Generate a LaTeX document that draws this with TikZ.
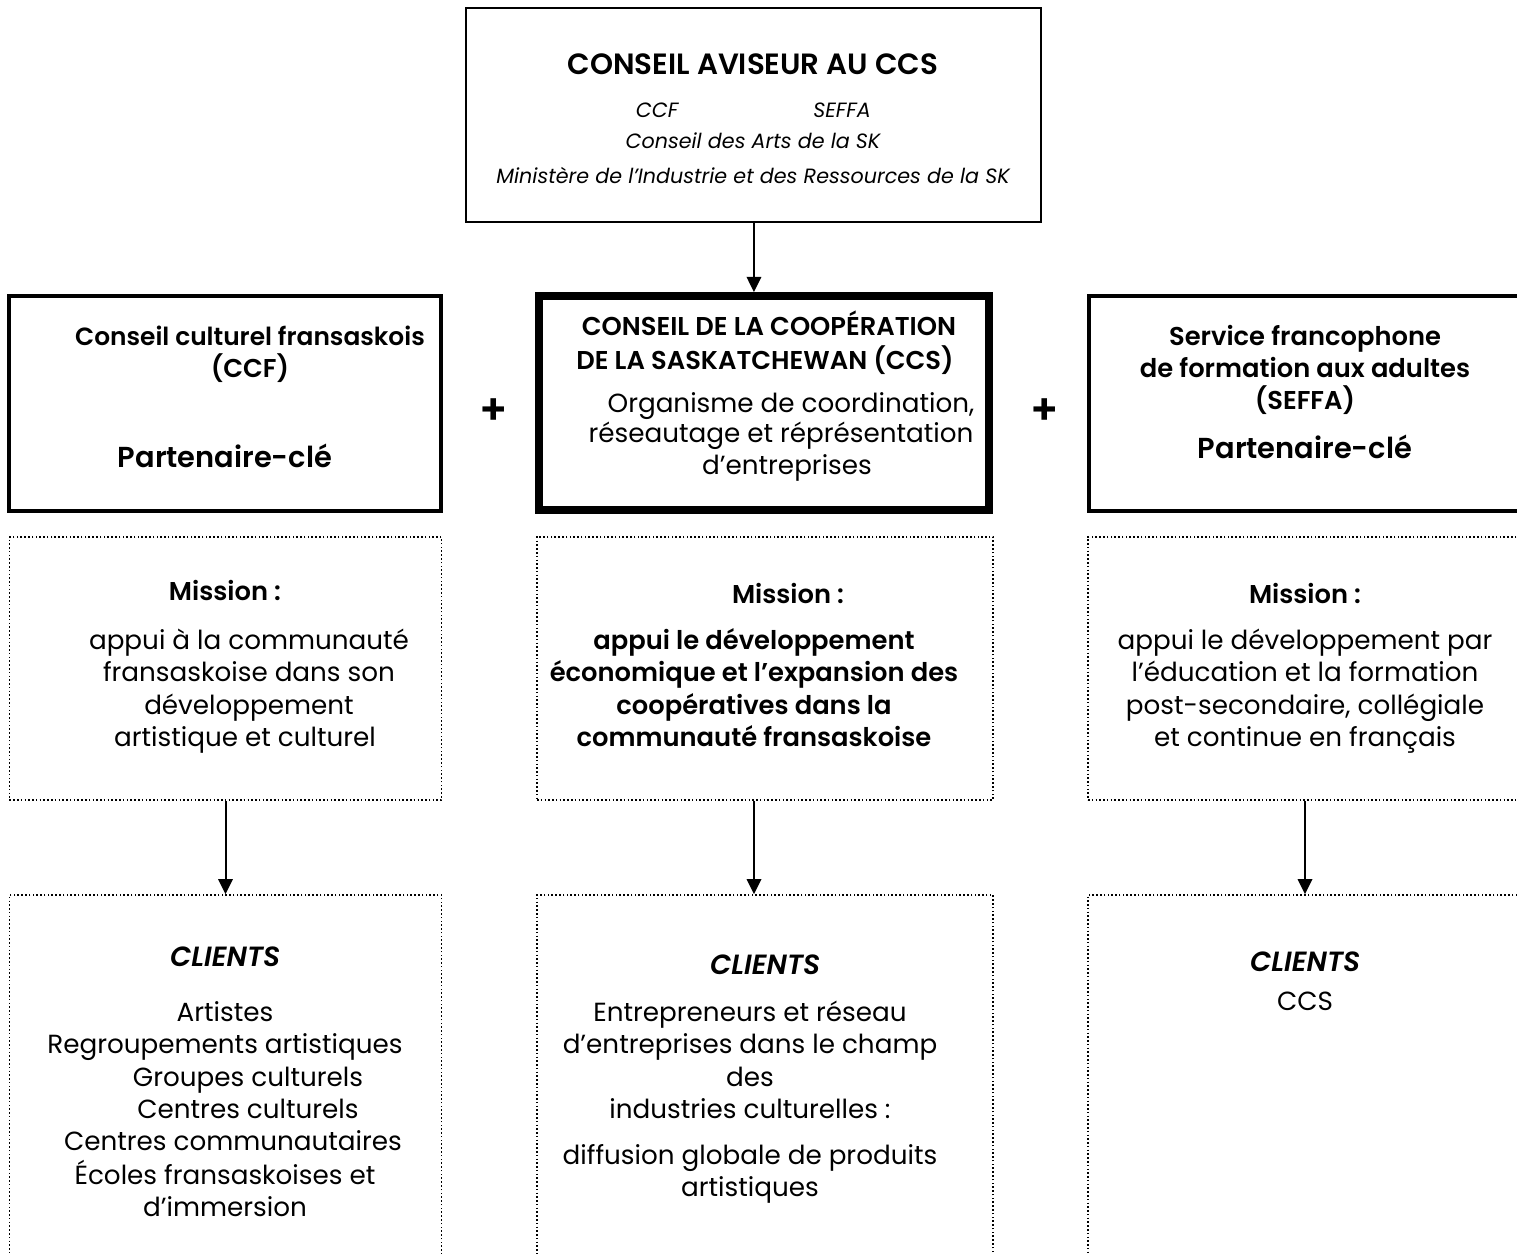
\documentclass[tikz,border=0pt]{standalone}
\usepackage{fontspec}
\setmainfont{Poppins}[BoldFont={Poppins SemiBold},BoldItalicFont={Poppins SemiBold Italic}]
\usetikzlibrary{arrows.meta}
\begin{document}
\begin{tikzpicture}[x=0.45pt,y=-0.45pt,
  every node/.style={font=\fontsize{11.8}{14.6}\selectfont},
  txt/.style={anchor=base,inner sep=0pt},
  btxt/.style={txt,font=\fontsize{11.6}{14.6}\selectfont\bfseries},
  itxt/.style={txt,font=\fontsize{9.3}{12}\selectfont\itshape},
  cltxt/.style={txt,font=\fontsize{12.5}{15}\selectfont\bfseries\itshape},
  topbox/.style={draw,line width=0.9pt,inner sep=0pt},
  partbox/.style={draw,line width=1.4pt,inner sep=0pt},
  ccsbox/.style={draw,line width=3.6pt,inner sep=0pt},
  dotbox/.style={draw,densely dotted,line width=0.7pt,inner sep=0pt},
  arr/.style={line width=0.9pt,-{Triangle[width=6.5pt,length=6.8pt]}}
]
\useasboundingbox (0,0) rectangle (1517,1254);
% boxes
\node[topbox,minimum width=258.75pt,minimum height=96.3pt] (aviseur) at (753.5,115) {};
\node[partbox,minimum width=194.4pt,minimum height=96.75pt] (ccf) at (225,403.5) {};
\node[ccsbox,minimum width=202.5pt,minimum height=96.3pt] (ccs) at (764,403) {};
\node[partbox,minimum width=194.4pt,minimum height=96.75pt] (seffa) at (1305,403.5) {};
\node[dotbox,minimum width=194.4pt,minimum height=118.35pt] (m1) at (225.5,668.5) {};
\node[dotbox,minimum width=205.2pt,minimum height=118.35pt] (m2) at (765,668.5) {};
\node[dotbox,minimum width=195.3pt,minimum height=118.35pt] (m3) at (1305,668.5) {};
\node[dotbox,minimum width=194.4pt,minimum height=193.5pt] (c1) at (225.5,1110) {};
\node[dotbox,minimum width=205.2pt,minimum height=193.5pt] (c2) at (765,1110) {};
\node[dotbox,minimum width=195.3pt,minimum height=193.5pt] (c3) at (1305,1110) {};
% arrows
\draw[arr] ([xshift=0.2pt]aviseur.south) -- ([xshift=0.2pt]aviseur.south |- ccs.north);
\draw[arr] (m1.south) -- (c1.north);
\draw[arr] ([xshift=-4.95pt]m2.south) -- ([xshift=-4.95pt]c2.north);
\draw[arr] (m3.south) -- (c3.north);
% top box text
\node[txt,font=\fontsize{13.2}{17}\selectfont\bfseries] (t0) at (753,74) {CONSEIL AVISEUR AU CCS};
\node[itxt] (t1) at (657,117) {CCF};
\node[itxt] (t2) at (842,117) {SEFFA};
\node[itxt] (t3) at (753,148) {Conseil des Arts de la SK};
\node[itxt] (t4) at (753,183) {Ministère de l’Industrie et des Ressources de la SK};
% left partner
\node[btxt,font=\fontsize{11.2}{14.6}\selectfont\bfseries] (p1a) at (250,345) {Conseil culturel fransaskois};
\node[btxt] (p1b) at (250,377) {(CCF)};
\node[btxt,font=\fontsize{13}{16}\selectfont\bfseries] (p1c) at (225,467) {Partenaire-clé};
% plus signs
\node[btxt,font=\fontsize{19}{20}\selectfont\bfseries] (plus1) at (494,424) {+};
\node[btxt,font=\fontsize{19}{20}\selectfont\bfseries] (plus2) at (1045,424) {+};
% center CCS
\node[btxt] (p2a) at (769,335) {CONSEIL DE LA COOPÉRATION};
\node[btxt] (p2b) at (765,369) {DE LA SASKATCHEWAN (CCS)};
\node[txt] (p2c) at (791,412) {Organisme de coordination,};
\node[txt] (p2d) at (781,442) {réseautage et réprésentation};
\node[txt] (p2e) at (787,474) {d’entreprises};
% right partner
\node[btxt] (p3a) at (1305,345) {Service francophone};
\node[btxt] (p3b) at (1305,377) {de formation aux adultes};
\node[btxt] (p3c) at (1305,409) {(SEFFA)};
\node[btxt,font=\fontsize{13}{16}\selectfont\bfseries] (p3d) at (1305,458) {Partenaire-clé};
% missions
\node[btxt] (m1t) at (225,600) {Mission :};
\node[txt] (m1a) at (249,649) {appui à la communauté};
\node[txt] (m1b) at (249,681) {fransaskoise dans son};
\node[txt] (m1c) at (249,714) {développement};
\node[txt] (m1d) at (245,746) {artistique et culturel};
\node[btxt] (m2t) at (788,603) {Mission :};
\node[btxt] (m2a) at (754,649) {appui le développement};
\node[btxt] (m2b) at (754,681) {économique et l’expansion des};
\node[btxt] (m2c) at (754,714) {coopératives dans la};
\node[btxt] (m2d) at (754,746) {communauté fransaskoise};
\node[btxt] (m3t) at (1305,603) {Mission :};
\node[txt] (m3a) at (1305,649) {appui le développement par};
\node[txt] (m3b) at (1305,681) {l’éducation et la formation};
\node[txt] (m3c) at (1305,714) {post-secondaire, collégiale};
\node[txt] (m3d) at (1305,746) {et continue en français};
% clients
\node[cltxt] (c1t) at (225,966) {CLIENTS};
\node[txt] (c1a) at (225,1021) {Artistes};
\node[txt] (c1b) at (225,1053) {Regroupements artistiques};
\node[txt] (c1c) at (248,1086) {Groupes culturels};
\node[txt] (c1d) at (248,1118) {Centres culturels};
\node[txt] (c1e) at (233,1150) {Centres communautaires};
\node[txt] (c1f) at (225,1184) {Écoles fransaskoises et};
\node[txt] (c1g) at (225,1216) {d’immersion};
\node[cltxt] (c2t) at (765,974) {CLIENTS};
\node[txt] (c2a) at (750,1021) {Entrepreneurs et réseau};
\node[txt] (c2b) at (750,1053) {d’entreprises dans le champ};
\node[txt] (c2c) at (750,1086) {des};
\node[txt] (c2d) at (750,1118) {industries culturelles :};
\node[txt] (c2e) at (750,1164) {diffusion globale de produits};
\node[txt] (c2f) at (750,1196) {artistiques};
\node[cltxt] (c3t) at (1305,971) {CLIENTS};
\node[txt] (c3a) at (1305,1010) {CCS};
\end{tikzpicture}
\end{document}
